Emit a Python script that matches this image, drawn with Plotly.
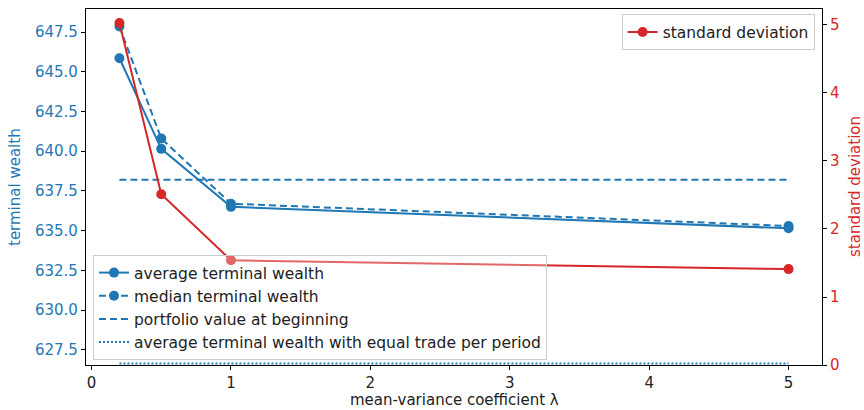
import plotly.graph_objects as go

lam = [0.2, 0.5, 1, 5]
avg_wealth = [645.85, 640.15, 636.5, 635.15]
median_wealth = [647.85, 640.8, 636.7, 635.3]
start_value = [638.2, 638.2]
equal_trade = [626.65, 626.65]
line_x = [0.2, 5]
std_dev = [5.03, 2.51, 1.54, 1.41]

BLUE = "#1f77b4"
RED = "#d62728"
FONT = "DejaVu Sans"
FS = 15
LFS = 15.5

fig = go.Figure()
fig.add_trace(go.Scatter(x=lam, y=avg_wealth, mode="lines+markers", name="average terminal wealth",
                         line=dict(color=BLUE, width=2), marker=dict(size=10, color=BLUE), legend="legend"))
fig.add_trace(go.Scatter(x=lam, y=median_wealth, mode="lines+markers", name="median terminal wealth",
                         line=dict(color=BLUE, width=2, dash="7px,4px"), marker=dict(size=10, color=BLUE), legend="legend"))
fig.add_trace(go.Scatter(x=line_x, y=start_value, mode="lines", name="portfolio value at beginning",
                         line=dict(color=BLUE, width=2, dash="7px,4px"), legend="legend"))
fig.add_trace(go.Scatter(x=line_x, y=equal_trade, mode="lines", name="average terminal wealth with equal trade per period",
                         line=dict(color=BLUE, width=2, dash="2px,2px"), legend="legend"))
fig.add_trace(go.Scatter(x=lam, y=std_dev, mode="lines+markers", name="standard deviation",
                         line=dict(color=RED, width=2), marker=dict(size=10, color=RED), yaxis="y2", legend="legend2"))

axis_common = dict(showgrid=False, zeroline=False, showline=True, linecolor="black", linewidth=1.2,
                   ticks="outside", ticklen=4, tickcolor="black", automargin=False)

fig.update_layout(
    width=864, height=410,
    margin=dict(l=86, r=42, t=9, b=45, autoexpand=False),
    paper_bgcolor="white", plot_bgcolor="white",
    font=dict(family=FONT, size=FS, color="#222"),
    xaxis=dict(range=[-0.04, 5.24], tickvals=[0, 1, 2, 3, 4, 5], mirror=True,
               tickfont=dict(size=FS, color="#222"), **axis_common),
    yaxis=dict(range=[626.55, 648.95], tickvals=[627.5, 630, 632.5, 635, 637.5, 640, 642.5, 645, 647.5],
               ticktext=["627.5", "630.0", "632.5", "635.0", "637.5", "640.0", "642.5", "645.0", "647.5"],
               tickfont=dict(size=FS, color=BLUE), **axis_common),
    yaxis2=dict(range=[0, 5.235], overlaying="y", side="right", tickvals=[0, 1, 2, 3, 4, 5],
                tickfont=dict(size=FS, color=RED), **axis_common),
    legend=dict(x=0.0095, y=0.014, xanchor="left", yanchor="bottom", bgcolor="rgba(255,255,255,0.3)",
                bordercolor="#cccccc", borderwidth=1, font=dict(size=LFS, color="#222")),
    legend2=dict(x=0.99, y=0.985, xanchor="right", yanchor="top", bgcolor="rgba(255,255,255,0.85)",
                 bordercolor="#cccccc", borderwidth=1, font=dict(size=LFS, color="#222")),
    showlegend=True,
    annotations=[
        dict(text="mean-variance coefficient λ", xref="paper", yref="paper", x=0.5, y=0.0, yshift=-35,
             xanchor="center", yanchor="middle", showarrow=False, font=dict(size=FS, color="#222")),
        dict(text="terminal wealth", xref="paper", yref="paper", x=0, xshift=-71, y=0.5,
             xanchor="center", yanchor="middle", textangle=-90, showarrow=False, font=dict(size=FS, color=BLUE)),
        dict(text="standard deviation", xref="paper", yref="paper", x=1, xshift=33, y=0.5,
             xanchor="center", yanchor="middle", textangle=-90, showarrow=False, font=dict(size=FS, color=RED)),
    ],
)

fig.write_html("out.html", config={"displayModeBar": False},
               post_script="document.body.style.margin='0';document.body.style.padding='0';"
                           "document.body.style.overflow='hidden';")
